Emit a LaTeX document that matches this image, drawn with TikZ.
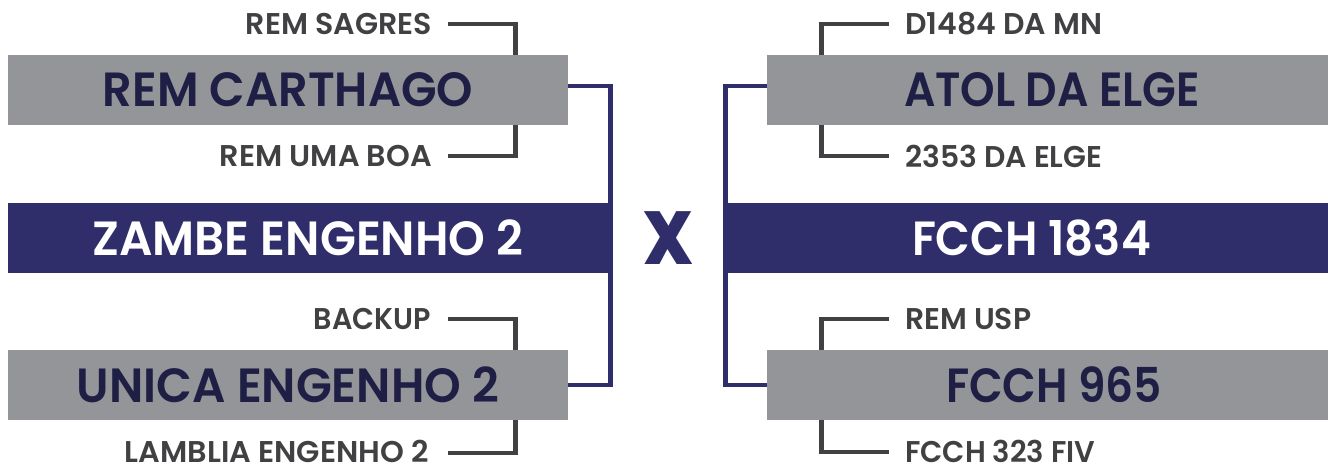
\documentclass[tikz,border=0pt]{standalone}
\usepackage{fontspec}
\setmainfont{Poppins}[BoldFont={Poppins SemiBold}]
\newfontfamily\heavyfont{Poppins ExtraBold}
\usepackage{graphicx}
\definecolor{boxgray}{HTML}{939598}
\definecolor{navy}{HTML}{2F2E6B}
\definecolor{ink}{HTML}{1F1E45}
\definecolor{lblgray}{HTML}{414143}
\newcommand\fitw[2]{\resizebox{#1pt}{\height}{#2}}
\tikzset{
  graybox/.style={fill=boxgray, inner sep=0pt, minimum height=70pt, text=ink,
    font=\fontsize{48}{50}\selectfont\bfseries},
  navybox/.style={fill=navy, inner sep=0pt, minimum height=70pt, text=white,
    font=\fontsize{48}{50}\selectfont\bfseries},
  lbl/.style={inner sep=0pt, text=lblgray, font=\fontsize{30}{32}\selectfont\bfseries},
  brk/.style={draw=lblgray, line width=4.8pt},
  link/.style={draw=navy, line width=4.8pt},
  vsmark/.style={inner sep=0pt, text=navy, font=\fontsize{75}{75}\selectfont\heavyfont},
}
\begin{document}
\begin{tikzpicture}[x=1pt,y=-1pt]
\useasboundingbox (0,0) rectangle (1328,466);
% left side
\node[graybox, minimum width=560pt] (carth) at (288,90) {\fitw{370}{REM CARTHAGO}};
\node[navybox, minimum width=600pt] (zambe) at (308,238) {\fitw{431}{ZAMBE ENGENHO 2}};
\node[graybox, minimum width=560pt] (unica) at (288,385) {\fitw{422}{UNICA ENGENHO 2}};
% right side
\node[graybox, minimum width=561pt] (atol) at (1047.5,90) {\hspace*{9pt}\fitw{296}{ATOL DA ELGE}};
\node[navybox, minimum width=600pt] (fcch1834) at (1028,238) {\hspace*{7pt}\fitw{239}{FCCH 1834}};
\node[graybox, minimum width=561pt] (f965) at (1047.5,385) {\hspace*{13pt}\fitw{216}{FCCH 965}};
% versus
\node[vsmark] (vs) at (668,238) {\fitw{50}{X}};
% labels left
\node[lbl, anchor=east] (sagres) at (432,24) {\fitw{186}{REM SAGRES}};
\node[lbl, anchor=east] (umaboa) at (432,156) {\fitw{212}{REM UMA BOA}};
\node[lbl, anchor=east] (backup) at (431,319) {\fitw{117}{BACKUP}};
\node[lbl, anchor=east] (lamblia) at (429,451) {\fitw{304}{LAMBLIA ENGENHO 2}};
% labels right
\node[lbl, anchor=west] (d1484) at (905,24) {\fitw{197}{D1484 DA MN}};
\node[lbl, anchor=west] (s2353) at (905,156) {\fitw{197}{2353 DA ELGE}};
\node[lbl, anchor=west] (remusp) at (905,319) {\fitw{126}{REM USP}};
\node[lbl, anchor=west] (fcch323) at (905,451) {\fitw{190}{FCCH 323 FIV}};
% brackets left
\draw[brk] ([xshift=16pt]sagres.east) -| ([xshift=-53pt]carth.north east);
\draw[brk] ([xshift=16pt]umaboa.east) -| ([xshift=-53pt]carth.south east);
\draw[brk] ([xshift=17pt]backup.east) -| ([xshift=-53pt]unica.north east);
\draw[brk] ([xshift=19pt,yshift=-2pt]lamblia.east) -| ([xshift=-53pt]unica.south east);
% brackets right
\draw[brk] ([xshift=-16pt]d1484.west) -| ([xshift=55pt]atol.north west);
\draw[brk] ([xshift=-16pt]s2353.west) -| ([xshift=55pt]atol.south west);
\draw[brk] ([xshift=-16pt]remusp.west) -| ([xshift=55pt]f965.north west);
\draw[brk] ([xshift=-16pt,yshift=-1pt]fcch323.west) -| ([xshift=55pt]f965.south west);
% navy links
\draw[link] ([yshift=4pt]carth.east) -- ++(42.5,0) |- (unica.east);
\draw[link] ([yshift=4pt]atol.west) -- ++(-41.5,0) |- (f965.west);
\end{tikzpicture}
\end{document}
